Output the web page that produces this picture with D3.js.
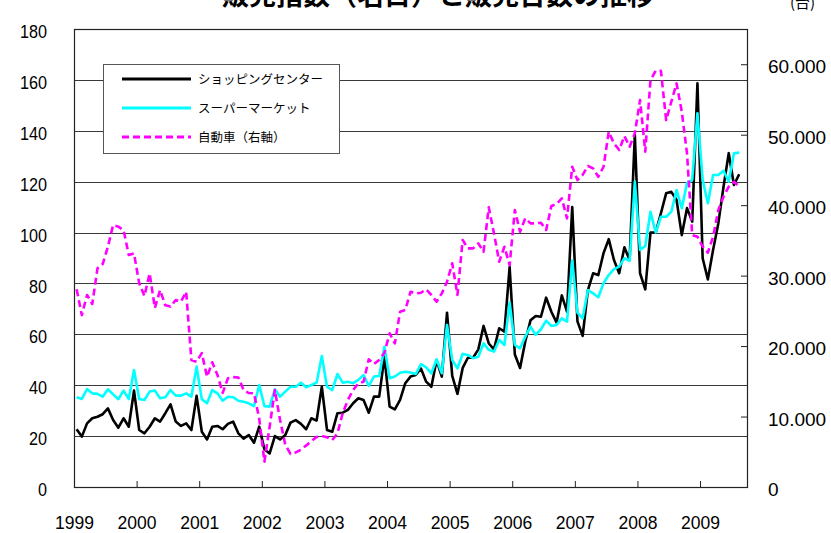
<!DOCTYPE html>
<html>
<head>
<meta charset="utf-8">
<script src="https://cdn.jsdelivr.net/npm/d3@7"></script>
<style>
  body { margin: 0; background: #fff; }
  #chart { width: 831px; height: 533px; }
</style>
</head>
<body>
<div id="chart"></div>
<script>
    // years on the x axis (monthly data, Jan 1999 - Aug 2009)
    var years = ["1999", "2000", "2001", "2002", "2003", "2004", "2005", "2006", "2007", "2008", "2009"];
    var nMonths = 129; // categories on the axis

    // ショッピングセンター (left axis)
    var shopping = [
      22.7, 19.8, 25, 27, 27.6, 28.6, 30.9, 26.3, 23.3, 27, 23.7, 37.9,
      22.4, 21.1, 23.7, 27, 25.7, 29, 32.5, 25.7, 24, 25, 22.4, 35.8,
      21.7, 18.7, 23.7, 24, 22.7, 24.8, 25.7, 21.1, 19, 20.4, 17.4, 23.7,
      14.8, 13.2, 20, 18.7, 20.4, 25.3, 26.3, 24.8, 22.7, 27, 26.1, 39.4,
      22.4, 21.7, 29, 29.2, 30.3, 32.9, 34.9, 34.2, 29.2, 35.5, 35.5, 51.2,
      31.6, 30.5, 34.2, 40.8, 43.4, 44, 46.6, 41.4, 39.4, 49.9, 43.4, 68.5,
      43.7, 36.6, 46.8, 50.8, 50.8, 54.1, 63.3, 56.4, 54.1, 62.4, 61.1, 86.4,
      52.1, 46.8, 57.2, 65.5, 67.2, 66.9, 74.4, 68.9, 64.6, 75.3, 68.9, 110,
      65.1, 59.4, 77.4, 84, 83.3, 91.9, 97.4, 89.2, 84, 94.2, 89.2, 138.4,
      84, 77.7, 100, 100, 107.6, 115.4, 116, 112.8, 99, 109.6, 104.3, 158.7,
      89.9, 81.6, 93.2, 103.6, 118, 131.2, 118.7, 122.9
    ];

    // スーパーマーケット (left axis)
    var supermarket = [
      35.3, 34.6, 38.5, 36.8, 36.6, 35.5, 38.4, 36.4, 34.5, 37.9, 34.6, 46,
      34.6, 34.2, 37.5, 37.9, 34.9, 35.3, 38.1, 35.9, 35.9, 36.8, 35.5, 47.3,
      34.5, 32.9, 38.1, 36.8, 33.9, 35.5, 35.3, 33.9, 33.5, 32.9, 31.8, 40.1,
      31.8, 31.6, 38.4, 35.5, 37.5, 39.4, 39.4, 41, 39.2, 40.1, 41, 51.5,
      39.4, 38.1, 44.4, 41, 41.4, 40.8, 42.1, 44, 39.7, 43.4, 43.6, 55.1,
      42.7, 43.4, 44.9, 45.3, 45, 44.4, 48.3, 47, 44.7, 50.2, 44.7, 63.7,
      49.9, 46.6, 52.3, 51.9, 50.6, 51.2, 56.5, 53.9, 53.2, 57.8, 55.8, 72.5,
      55.8, 54.5, 59.1, 63, 59.8, 62, 65.4, 63.3, 63.7, 66.3, 65, 89,
      68.5, 66.3, 77.4, 76.1, 74.6, 80.1, 83.3, 85.6, 86.6, 89.9, 88.9, 120,
      93.2, 94.7, 108.2, 100, 106.2, 106.2, 108.2, 116.7, 109.6, 119.4, 120.7, 146.9,
      120.7, 111.5, 122.6, 122.6, 124.3, 120, 131.2, 131.4
    ];

    // 自動車 (right axis, 台)
    var cars = [
      28050, 24400, 27250, 25970, 31030, 31640, 34100, 37180, 36940, 36470, 32920, 33160,
      28900, 27100, 30320, 25400, 27950, 25800, 25600, 26540, 26300, 27710, 18020, 17780,
      19000, 15650, 17700, 15900, 13350, 15420, 15600, 15550, 13760, 13330, 13290, 9700,
      3590, 8560, 13760, 9500, 6000, 4700, 4900, 5300, 5900, 6500, 7100, 7240,
      7050, 6670, 7620, 10460, 12350, 13760, 14710, 14940, 18120, 17450, 18020, 19060,
      21810, 20390, 24880, 25120, 27710, 27480, 27570, 28050, 27250, 26300, 27480, 29130,
      31740, 27250, 35050, 33870, 33870, 34580, 33390, 39690, 36000, 31970, 34100, 31500,
      39310, 36230, 38130, 37420, 37420, 37510, 36470, 39880, 40160, 40960, 38130, 45450,
      43560, 44300, 45550, 45220, 44030, 45450, 50420, 48770, 47820, 49810, 48290, 50190,
      54920, 47580, 57750, 59070, 59070, 52080, 54680, 57280, 53260, 47350, 35760, 35520,
      34100, 33250, 35520, 39310, 41200, 42620, 43330, 42620
    ];

    var leftTicks = [0, 20, 40, 60, 80, 100, 120, 140, 160, 180];
    var rightTicks = [0, 10000, 20000, 30000, 40000, 50000, 60000];

    var legendNames = ["ショッピングセンター", "スーパーマーケット", "自動車（右軸）"];

    //plot area
    var plot = { left: 74, top: 29, right: 747, bottom: 487 };

    var svg = d3
      .select("#chart")
      .append("svg")
      .attr("width", 831)
      .attr("height", 533);

    var x = d3.scaleLinear().domain([0, nMonths]).range([plot.left, plot.right]);
    var yL = d3.scaleLinear().domain([0, 180]).range([plot.bottom, plot.top]);
    var yR = d3.scaleLinear().domain([0, 65000]).range([plot.bottom, plot.top]);

    // "60.000" style numbers
    var dotFormat = d3.formatLocale({ decimal: ",", thousands: ".", grouping: [3], currency: ["", ""] }).format(",");

    // title (top is cut off in the original)
    svg.append("text")
      .attr("x", 438)
      .attr("y", 5)
      .attr("text-anchor", "middle")
      .attr("font-family", "'Noto Sans CJK JP', sans-serif")
      .attr("font-weight", "bold")
      .attr("font-size", 27)
      .text("販売指数（名目）と販売台数の推移");

    svg.append("text")
      .attr("x", 790)
      .attr("y", 8)
      .attr("font-family", "'Noto Sans CJK JP', sans-serif")
      .attr("font-size", 15)
      .text("(台)");

    //gridlines
    svg.append("g")
      .selectAll("line")
      .data(leftTicks.filter(d => d > 0 && d < 180))
      .enter()
      .append("line")
      .attr("x1", plot.left)
      .attr("x2", plot.right)
      .attr("y1", d => Math.round(yL(d)) + 0.5)
      .attr("y2", d => Math.round(yL(d)) + 0.5)
      .attr("stroke", "#3a3a3a")
      .attr("stroke-width", 1);

    // frame
    svg.append("rect")
      .attr("x", plot.left + 0.5)
      .attr("y", plot.top + 0.5)
      .attr("width", plot.right - plot.left)
      .attr("height", plot.bottom - plot.top)
      .attr("fill", "none")
      .attr("stroke", "#222")
      .attr("stroke-width", 1.2);

    // left axis, narrow digits like the original
    var leftAxis = svg.append("g")
      .attr("transform", "translate(" + plot.left + ",0)")
      .call(d3.axisLeft(yL).tickValues(leftTicks).tickSize(0).tickPadding(27).tickFormat(d3.format("d")));
    leftAxis.select(".domain").remove();
    leftAxis.selectAll("text")
      .attr("font-family", "'Liberation Sans', Arial, sans-serif")
      .attr("font-size", 19)
      .attr("dy", "0.45em")
      .attr("textLength", d => String(d).length * 9)
      .attr("lengthAdjust", "spacingAndGlyphs")
      .attr("fill", "#000");

    // right axis
    var rightAxis = svg.append("g")
      .attr("transform", "translate(" + plot.right + ",0)")
      .call(d3.axisRight(yR).tickValues(rightTicks).tickSize(-6).tickPadding(21).tickFormat(dotFormat));
    rightAxis.select(".domain").remove();
    rightAxis.selectAll("line").attr("stroke", "#222");
    rightAxis.selectAll("text")
      .attr("font-family", "'Liberation Sans', Arial, sans-serif")
      .attr("font-size", 19)
      .attr("dy", "0.45em")
      .attr("fill", "#000");

    // bottom axis, tick at the start of each year
    var bottomAxis = svg.append("g")
      .attr("transform", "translate(0," + plot.bottom + ")")
      .call(d3.axisBottom(x)
        .tickValues(years.map((d, i) => i * 12))
        .tickSize(-6)
        .tickPadding(29)
        .tickFormat((d, i) => years[i]));
    bottomAxis.select(".domain").remove();
    bottomAxis.selectAll("line").attr("stroke", "#222");
    bottomAxis.selectAll("text")
      .attr("font-family", "'Liberation Sans', Arial, sans-serif")
      .attr("font-size", 19)
      .attr("textLength", 39)
      .attr("lengthAdjust", "spacingAndGlyphs")
      .attr("fill", "#000");

    // lines
    var lineL = d3.line().x((d, i) => x(i + 0.5)).y(d => yL(d));
    var lineR = d3.line().x((d, i) => x(i + 0.5)).y(d => yR(d));

    svg.append("path")
      .datum(shopping)
      .attr("d", lineL)
      .attr("fill", "none")
      .attr("stroke", "#000")
      .attr("stroke-width", 2.6)
      .attr("stroke-linejoin", "round");

    svg.append("path")
      .datum(supermarket)
      .attr("d", lineL)
      .attr("fill", "none")
      .attr("stroke", "#00ffff")
      .attr("stroke-width", 2.6)
      .attr("stroke-linejoin", "round");

    svg.append("path")
      .datum(cars)
      .attr("d", lineR)
      .attr("fill", "none")
      .attr("stroke", "#ff00ff")
      .attr("stroke-width", 2.6)
      .attr("stroke-dasharray", "7,4")
      .attr("stroke-linejoin", "round");

    //legend box
    var legend = svg.append("g").attr("transform", "translate(103,64)");
    legend.append("rect")
      .attr("x", 0.5)
      .attr("y", 0.5)
      .attr("width", 236)
      .attr("height", 89)
      .attr("fill", "#fff")
      .attr("stroke", "#555");

    var legendStyle = [
      { color: "#000", dash: null },
      { color: "#00ffff", dash: null },
      { color: "#ff00ff", dash: "7,4" }
    ];

    var item = legend.selectAll("g.item")
      .data(legendNames)
      .enter()
      .append("g")
      .attr("class", "item")
      .attr("transform", (d, i) => "translate(0," + (15 + i * 29) + ")");

    item.append("line")
      .attr("x1", 19)
      .attr("x2", 88)
      .attr("stroke", (d, i) => legendStyle[i].color)
      .attr("stroke-width", 3)
      .attr("stroke-dasharray", (d, i) => legendStyle[i].dash);

    item.append("text")
      .attr("x", 95)
      .attr("dy", "0.38em")
      .attr("font-family", "'Noto Sans CJK JP', sans-serif")
      .attr("font-size", 12.5)
      .text(d => d);
</script>
</body>
</html>
